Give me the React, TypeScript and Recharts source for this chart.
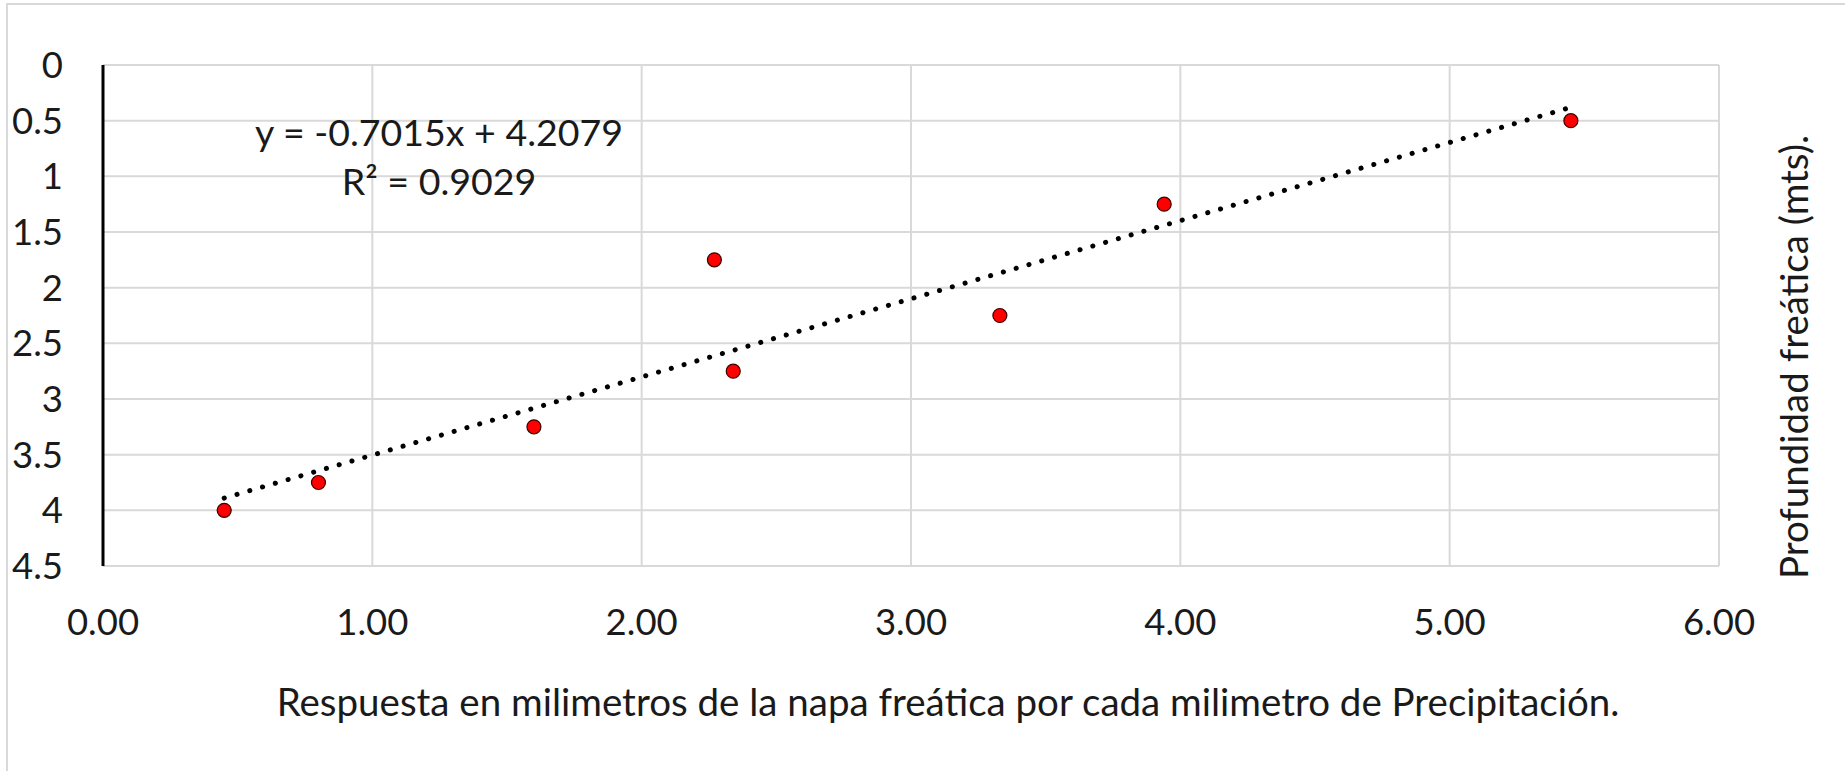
import React from "react";
import {
  ScatterChart,
  Scatter,
  XAxis,
  YAxis,
  CartesianGrid,
  Label,
} from "recharts";

// Points
const responseMm = [0.45, 0.8, 1.6, 2.27, 2.34, 3.33, 3.94, 5.45];
const depthM = [4.0, 3.75, 3.25, 1.75, 2.75, 2.25, 1.25, 0.5];

// Trendline ends (y = -0.7015x + 4.2079, drawn from min x to max x)
const trendX = [0.45, 5.45];
const trendY = [3.89, 0.38];

const xTicks = [0, 1, 2, 3, 4, 5, 6];
const yTicks = [0, 0.5, 1, 1.5, 2, 2.5, 3, 3.5, 4, 4.5];

const equationText = "y = -0.7015x + 4.2079";
const r2Text = "R² = 0.9029";
const xTitle =
  "Respuesta en milimetros de la napa freática por cada milimetro de Precipitación.";
const yTitle = "Profundidad freática (mts).";

const points = responseMm.map((x, i) => ({ x, y: depthM[i] }));
const trend = trendX.map((x, i) => ({ x, y: trendY[i] }));

const FONT = "Lato, 'Open Sans', sans-serif";
const TEXT = "#1a1a1a";

const RedDot = (props: any) => (
  <circle
    cx={props.cx}
    cy={props.cy}
    r={7}
    fill="#ff0000"
    stroke="#3a0000"
    strokeWidth={1.2}
  />
);

const NoDot = () => <g />;

export default function App() {
  return (
    <div
      style={{
        position: "absolute",
        left: 0,
        top: 0,
        width: 1845,
        height: 771,
        background: "#fff",
        overflow: "hidden",
      }}
    >
      {/* outer chart frame, only top & left visible */}
      <div
        style={{
          position: "absolute",
          left: 6,
          top: 3,
          width: 1845,
          height: 771,
          borderTop: "2px solid #d9d9d9",
          borderLeft: "2px solid #d9d9d9",
        }}
      />
      <div style={{ position: "absolute", left: 0, top: 0 }}>
        <ScatterChart
          width={1845}
          height={771}
          margin={{ top: 65, right: 0, bottom: 125, left: 3 }}
        >
          <CartesianGrid stroke="#d9d9d9" strokeWidth={2} />
          <XAxis
            type="number"
            dataKey="x"
            domain={[0, 6]}
            ticks={xTicks}
            tickFormatter={(v: number) => v.toFixed(2)}
            axisLine={false}
            tickLine={false}
            tickSize={0}
            tickMargin={43}
            height={80}
            tick={{ fill: TEXT, fontSize: 36.5, fontFamily: FONT }}
          >
            <Label
              content={({ viewBox }: any) => (
                <text
                  x={948}
                  y={viewBox.y + 150}
                  textAnchor="middle"
                  fill={TEXT}
                  fontSize={38.5}
                  fontFamily={FONT}
                >
                  {xTitle}
                </text>
              )}
            />
          </XAxis>
          <YAxis
            type="number"
            dataKey="y"
            reversed
            domain={[0, 4.5]}
            ticks={yTicks}
            width={100}
            axisLine={{ stroke: "#000", strokeWidth: 3 }}
            tickLine={false}
            tickSize={0}
            tickMargin={40}
            tick={{ fill: TEXT, fontSize: 36.5, fontFamily: FONT }}
          />
          <YAxis
            yAxisId="right"
            orientation="right"
            width={126}
            tick={false}
            axisLine={false}
            tickLine={false}
          >
            <Label
              content={({ viewBox }: any) => {
                const cx = viewBox.x + 74;
                const cy = 357;
                return (
                  <text
                    x={cx}
                    y={cy}
                    transform={`rotate(-90, ${cx}, ${cy})`}
                    textAnchor="middle"
                    dominantBaseline="central"
                    fill={TEXT}
                    fontSize={38.5}
                    fontFamily={FONT}
                  >
                    {yTitle}
                  </text>
                );
              }}
            />
          </YAxis>
          <Scatter
            data={trend}
            isAnimationActive={false}
            fill="#000"
            shape={NoDot}
            line={{
              stroke: "#000",
              strokeWidth: 5,
              strokeDasharray: "0.1 13.2",
              strokeLinecap: "round",
            }}
          />
          <Scatter
            data={points}
            isAnimationActive={false}
            shape={RedDot}
          />
        </ScatterChart>
      </div>
      <div
        style={{
          position: "absolute",
          left: 239,
          top: 107,
          width: 400,
          textAlign: "center",
          lineHeight: "49px",
          fontSize: 37.5,
          fontFamily: FONT,
          color: TEXT,
          whiteSpace: "nowrap",
        }}
      >
        <div>{equationText}</div>
        <div>{r2Text}</div>
      </div>
    </div>
  );
}
